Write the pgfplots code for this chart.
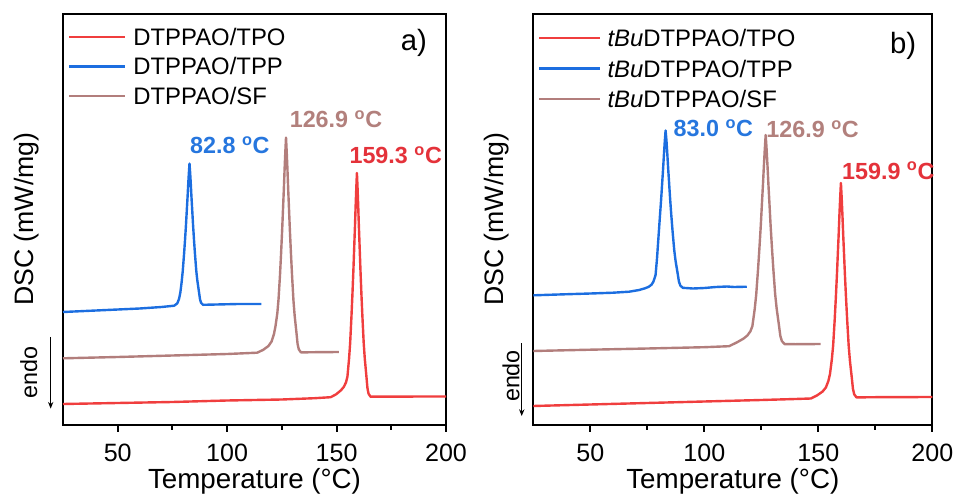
\documentclass[border=0pt]{standalone}
\usepackage{fontspec}
\setmainfont{Liberation Sans}
\usepackage{pgfplots}
\pgfplotsset{compat=1.18}
\usetikzlibrary{arrows.meta}
\definecolor{cred}{RGB}{240,62,62}
\definecolor{cblue}{RGB}{28,110,224}
\definecolor{cbrown}{RGB}{178,126,124}
\definecolor{lred}{RGB}{228,50,58}
\definecolor{lblue}{RGB}{38,118,222}
\definecolor{lbrown}{RGB}{178,128,124}
\pgfplotsset{dscax/.style={
  scale only axis, height=308.6pt,
  xmin=25, xmax=200, ymin=0, ymax=411.5,
  axis line style={line width=1.5pt},
  xtick={50,100,150,200}, minor xtick={75,125,175}, ytick=\empty,
  xtick pos=bottom, tick align=outside,
  major tick length=5pt, minor tick length=3.5pt,
  every tick/.style={black, line width=1.5pt},
  /pgf/number format/assume math mode=true,
  xticklabel style={font=\fontsize{18.8}{22}\selectfont, inner sep=0pt, anchor=base, yshift=-22.75pt},
  xlabel={Temperature (°C)}, ylabel={DSC (mW/mg)},
  xlabel style={font=\fontsize{20.8}{24}\selectfont, inner sep=0pt, at={(axis description cs:0.5,0)}, anchor=base, yshift=-47.5pt},
  clip=false,
  legend cell align=left,
  every axis plot/.append style={line width=1.8pt, line join=round},
}}
\begin{document}
\begin{tikzpicture}
\useasboundingbox (0,0) rectangle (716.25pt,371.25pt);
% ---------------- panel a ----------------
\begin{axis}[dscax, at={(47.25pt,52.5pt)}, anchor=south west, width=287.25pt,
  ylabel style={font=\fontsize{20}{24}\selectfont, inner sep=0pt, at={(axis description cs:-0.0783,0.5)}, anchor=base},
  legend image code/.code={\draw[#1] (0pt,0pt) -- (42pt,0pt);},
  legend style={draw=none, fill=none, inner sep=0pt, outer sep=0pt, column sep=5.25pt, row sep=5.1pt,
    at={(axis cs:27.3,399.4)}, anchor=north west,
    nodes={inner sep=0pt, text height=14.9pt, text depth=2.1pt, font=\fontsize{17.9}{20}\selectfont}}]
\addplot[cred] coordinates {(25,21) (50,22) (75,23) (100,24.5) (125,25.5) (140,26.8) (147.3,27.8) (149.8,30.7) (152.0,34.7) (153.3,38.1) (154.3,42.6) (154.95,48.2) (155.7,66.1) (156.2,81.8) (156.8,108.6) (157.25,131) (157.7,155.7) (158.1,180.3) (158.4,198.2) (158.7,218.4) (159.0,236.3) (159.3,252) (159.6,236.3) (159.9,218.4) (160.2,198.2) (160.5,180.3) (160.9,155.7) (161.35,131) (161.8,108.6) (162.4,81.8) (162.9,66.1) (163.65,48.2) (164.1,37) (164.6,31.4) (165.5,28.3) (170,28.4) (200,28.5)};
\addlegendentry{DTPPAO/TPO}
\addplot[cblue] coordinates {(25,113) (40,114.5) (50,115.5) (60,116.5) (70,118) (75.8,119.3) (77.2,121.6) (78.0,125.9) (78.6,132.3) (79.2,142.8) (79.7,153.6) (80.3,170.6) (80.75,184.8) (81.2,200.4) (81.6,216.1) (81.9,227.4) (82.2,240.2) (82.5,251.6) (82.8,261.5) (83.1,252.1) (83.4,240.7) (83.7,227.9) (84.0,216.6) (84.4,200.9) (84.85,185.3) (85.3,171.1) (85.9,154.1) (86.4,144.1) (87.15,132.8) (87.6,125.7) (88.1,122.1) (89.0,120.2) (95,120.5) (105,121) (115.6,121)};
\addlegendentry{DTPPAO/TPP}
\addplot[cbrown] coordinates {(25,66.7) (50,68) (75,69.5) (100,71) (113.7,72.3) (116.45,75.1) (118.87,79) (120.3,83.5) (121.4,91) (122.11,99) (122.94,112) (123.49,126) (124.15,149.9) (124.64,171.4) (125.14,195.1) (125.58,218.7) (125.91,235.9) (126.24,255.3) (126.57,272.5) (126.9,287.5) (127.23,272.5) (127.56,255.3) (127.89,235.9) (128.22,218.7) (128.66,195.1) (129.16,171.4) (129.65,149.9) (130.31,124.1) (130.86,109.1) (131.69,91.9) (132.18,81.1) (132.73,75.7) (133.72,72.6) (140,72.8) (151,73)};
\addlegendentry{DTPPAO/SF}
\node[anchor=west, inner sep=0pt, font=\bfseries\fontsize{17.5}{20}\selectfont, text=lblue] at (axis cs:83,280) {82.8 \textsuperscript{o}C};
\node[anchor=west, inner sep=0pt, font=\bfseries\fontsize{17.5}{20}\selectfont, text=lbrown] at (axis cs:128.5,305.7) {126.9 \textsuperscript{o}C};
\node[anchor=west, inner sep=0pt, font=\bfseries\fontsize{17.5}{20}\selectfont, text=lred] at (axis cs:155.8,270) {159.3 \textsuperscript{o}C};
\node[inner sep=0pt, font=\fontsize{22}{24}\selectfont] at (axis cs:185.3,382) {a)};
\end{axis}
% ---------------- panel b ----------------
\begin{axis}[dscax, at={(400pt,52.5pt)}, anchor=south west, width=299.25pt,
  ylabel style={font=\fontsize{20}{24}\selectfont, inner sep=0pt, at={(axis description cs:-0.0759,0.5)}, anchor=base},
  legend image code/.code={\draw[#1] (0pt,0pt) -- (45.75pt,0pt);},
  legend style={draw=none, fill=none, inner sep=0pt, outer sep=0pt, column sep=4.5pt, row sep=5.9pt,
    at={(axis cs:27.1,398.4)}, anchor=north west,
    nodes={inner sep=0pt, text height=14.9pt, text depth=2.1pt, font=\fontsize{17.9}{20}\selectfont}}]
\addplot[cred] coordinates {(25,19) (50,20.5) (75,22) (100,23.5) (125,25) (140,26) (146.7,26.5) (149.45,29.6) (151.87,33.5) (153.3,37.5) (154.4,44) (155.11,51) (155.94,66) (156.49,79.5) (157.15,104.4) (157.64,125.9) (158.14,149.6) (158.58,173.2) (158.91,190.4) (159.24,209.8) (159.57,227) (159.9,242) (160.23,227.5) (160.56,210.3) (160.89,190.9) (161.22,173.7) (161.66,150.1) (162.16,126.4) (162.65,104.9) (163.31,79.1) (163.86,64.1) (164.69,46.9) (165.18,36.1) (165.73,30.7) (166.72,27.6) (175,27.8) (200,28)};
\addlegendentry{\textit{tBu}DTPPAO/TPO}
\addplot[cblue] coordinates {(25,129.7) (40,130.8) (50,131.5) (60,132.3) (67,133.3) (71.41,135) (74.09,136.8) (75.68,138.3) (76.9,140.5) (77.69,143.5) (78.61,150) (79.22,166) (79.95,190) (80.5,208.1) (81.05,225.6) (81.54,243.1) (81.9,255.8) (82.27,270.2) (82.63,282.9) (83.0,294.5) (83.37,284.9) (83.73,272.2) (84.1,257.8) (84.46,245.1) (84.95,227.6) (85.5,210.1) (86.05,194.2) (86.78,175.2) (87.39,164) (88.31,151.3) (88.86,143.4) (89.47,139.4) (90.56,137.2) (95,136.5) (100,137) (105,138) (110,138.5) (113,138) (118.6,138.3)};
\addlegendentry{\textit{tBu}DTPPAO/TPP}
\addplot[cbrown] coordinates {(25,74) (50,75.3) (75,76.5) (100,77.8) (110.82,78.8) (114.17,82.5) (117.12,86.3) (118.86,89.5) (120.2,93.7) (121.07,98.9) (122.08,115.7) (122.75,130.4) (123.55,155.6) (124.15,176.6) (124.76,199.7) (125.29,222.8) (125.69,239.6) (126.1,258.5) (126.5,275.3) (126.9,290) (127.3,276) (127.7,259.2) (128.11,240.3) (128.51,223.5) (129.04,200.4) (129.65,177.3) (130.25,156.3) (131.05,131.1) (131.72,116.4) (132.73,99.6) (133.33,89.1) (134.0,83.9) (135.21,80.9) (140,80.8) (151,81)};
\addlegendentry{\textit{tBu}DTPPAO/SF}
\node[anchor=west, inner sep=0pt, font=\bfseries\fontsize{17.5}{20}\selectfont, text=lblue] at (axis cs:86.4,296.7) {83.0 \textsuperscript{o}C};
\node[anchor=west, inner sep=0pt, font=\bfseries\fontsize{17.5}{20}\selectfont, text=lbrown] at (axis cs:127.1,295.7) {126.9 \textsuperscript{o}C};
\node[anchor=west, inner sep=0pt, font=\bfseries\fontsize{17.5}{20}\selectfont, text=lred] at (axis cs:160.3,254.3) {159.9 \textsuperscript{o}C};
\node[inner sep=0pt, font=\fontsize{22}{24}\selectfont] at (axis cs:187.2,379) {b)};
\end{axis}
% endo annotations
\draw[line width=0.8pt, -{Stealth[length=5pt,width=4pt]}] (38pt,118.5pt) -- (38pt,64.8pt);
\node[rotate=90, anchor=base, inner sep=0pt, font=\fontsize{17.5}{20}\selectfont] at (27.75pt,91.9pt) {endo};
\draw[line width=0.8pt, -{Stealth[length=5pt,width=4pt]}] (391.3pt,113.8pt) -- (391.3pt,59.25pt);
\node[rotate=90, anchor=base, inner sep=0pt, font=\fontsize{17.5}{20}\selectfont] at (389.5pt,89.25pt) {endo};
\end{tikzpicture}
\end{document}
